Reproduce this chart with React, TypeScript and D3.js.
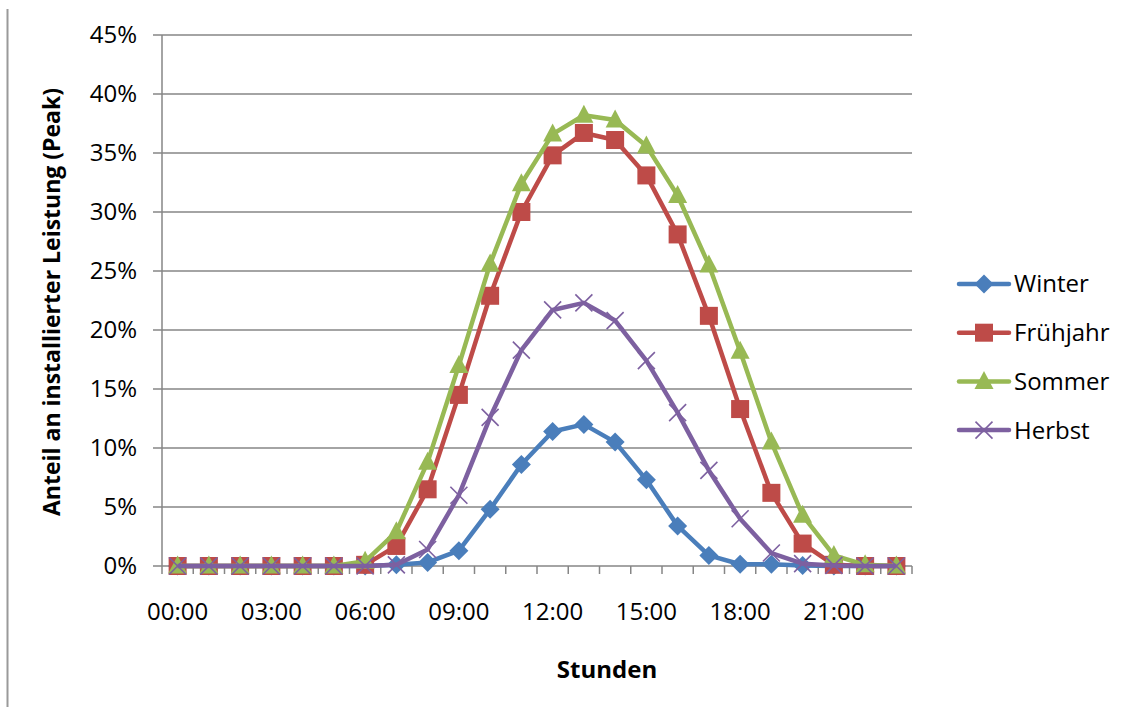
import React from 'react'
import * as d3 from 'd3'

// hours of the day (categories)
const hours = d3.range(24).map((h) => `${String(h).padStart(2, '0')}:00`)
const shownHours = ['00:00', '03:00', '06:00', '09:00', '12:00', '15:00', '18:00', '21:00']
const yTicks = [0, 0.05, 0.1, 0.15, 0.2, 0.25, 0.3, 0.35, 0.4, 0.45]

// share of installed peak power, in percent
const winter = [0, 0, 0, 0, 0, 0, 0, 0.1, 0.3, 1.3, 4.8, 8.6, 11.4, 12.0, 10.5, 7.3, 3.4, 0.9, 0.15, 0.15, 0.05, 0, 0, 0]
const fruehjahr = [0, 0, 0, 0, 0, 0, 0.1, 1.7, 6.5, 14.5, 22.9, 30.0, 34.8, 36.7, 36.1, 33.1, 28.1, 21.2, 13.3, 6.2, 1.9, 0.1, 0, 0]
const sommer = [0, 0, 0, 0, 0, 0, 0.4, 2.9, 8.8, 17.0, 25.6, 32.4, 36.6, 38.2, 37.8, 35.6, 31.4, 25.5, 18.2, 10.5, 4.3, 0.9, 0.1, 0]
const herbst = [0, 0, 0, 0, 0, 0, 0, 0.1, 1.4, 6.0, 12.6, 18.3, 21.7, 22.3, 20.8, 17.4, 13.0, 8.1, 4.0, 1.1, 0.2, 0.05, 0, 0]

const seriesNames = ['Winter', 'Frühjahr', 'Sommer', 'Herbst']
const seriesValues = [winter, fruehjahr, sommer, herbst]
const seriesColors = ['#4A7EBB', '#BE4B48', '#98B954', '#7D60A0']
const seriesMarkers = ['diamond', 'square', 'triangle', 'x']

const FONT = '"Open Sans", sans-serif'
const GRID = '#868686'

function marker(kind: string, x: number, y: number, color: string, key: string) {
  if (kind === 'diamond') {
    return <path key={key} d={`M${x},${y - 9.5}L${x + 9.5},${y}L${x},${y + 9.5}L${x - 9.5},${y}Z`} fill={color} />
  }
  if (kind === 'square') {
    return <rect key={key} x={x - 9} y={y - 9} width={18} height={18} fill={color} />
  }
  if (kind === 'triangle') {
    return <path key={key} d={`M${x},${y - 10.5}L${x + 9.5},${y + 7.5}L${x - 9.5},${y + 7.5}Z`} fill={color} />
  }
  return (
    <path key={key} d={`M${x - 8.5},${y - 8.5}L${x + 8.5},${y + 8.5}M${x - 8.5},${y + 8.5}L${x + 8.5},${y - 8.5}`}
      stroke={color} strokeWidth={1.6} fill="none" />
  )
}

export default function App() {
  const width = 1128
  const height = 707
  const left = 162, right = 912, top = 35, bottom = 566

  const x = d3.scaleBand().domain(hours).range([left, right])
  const y = d3.scaleLinear().domain([0, 0.45]).range([bottom, top])
  const cx = (h: string) => (x(h) as number) + x.bandwidth() / 2

  const line = d3.line<number>()
    .x((_, i) => cx(hours[i]))
    .y((d) => y(d / 100))

  const fmt = d3.format('.0%')

  return (
    <svg width={width} height={height} style={{ position: 'absolute', left: 0, top: 0, background: '#fff' }}
      fontFamily={FONT}>
      {/* left border line */}
      <line x1={7.5} x2={7.5} y1={9} y2={707} stroke="#9a9a9a" strokeWidth={2} />

      {/* gridlines + y ticks */}
      {yTicks.map((t) => (
        <g key={t}>
          <line x1={left - 9} x2={right} y1={y(t)} y2={y(t)} stroke={GRID} strokeWidth={1.5} />
          <text x={137} y={y(t)} dy="0.35em" textAnchor="end" fontSize={24} fill="#000">{fmt(t)}</text>
        </g>
      ))}
      <line x1={left} x2={left} y1={top} y2={bottom} stroke={GRID} strokeWidth={1.5} />

      {/* x ticks */}
      {hours.concat(['end']).map((h, i) => {
        const xx = i < hours.length ? (x(h) as number) : right
        return <line key={h} x1={xx} x2={xx} y1={bottom} y2={bottom + 8} stroke={GRID} strokeWidth={1.5} />
      })}
      {shownHours.map((h) => (
        <text key={h} x={cx(h)} y={620} textAnchor="middle" fontSize={24} fill="#000">{h}</text>
      ))}

      {/* series */}
      {seriesValues.map((vals, s) => (
        <g key={seriesNames[s]}>
          <path d={line(vals) || ''} fill="none" stroke={seriesColors[s]} strokeWidth={4.5} strokeLinejoin="round" />
          {vals.map((v, i) => marker(seriesMarkers[s], cx(hours[i]), y(v / 100), seriesColors[s], `${s}-${i}`))}
        </g>
      ))}

      {/* legend */}
      {seriesNames.map((name, s) => {
        const ly = 284 + s * 48.7
        return (
          <g key={name}>
            <line x1={959} x2={1009} y1={ly} y2={ly} stroke={seriesColors[s]} strokeWidth={4.5} strokeLinecap="round" />
            {marker(seriesMarkers[s], 984, ly, seriesColors[s], `lg-${s}`)}
            <text x={1014} y={ly} dy="0.35em" fontSize={24} fill="#000">{name}</text>
          </g>
        )
      })}

      {/* axis titles */}
      <text x={607} y={678} textAnchor="middle" fontSize={24} fontWeight="bold" fill="#000">Stunden</text>
      <text transform="translate(52,302) rotate(-90)" dy="0.35em" textAnchor="middle" fontSize={23}
        fontWeight="bold" fill="#000">Anteil an installierter Leistung (Peak)</text>
    </svg>
  )
}
